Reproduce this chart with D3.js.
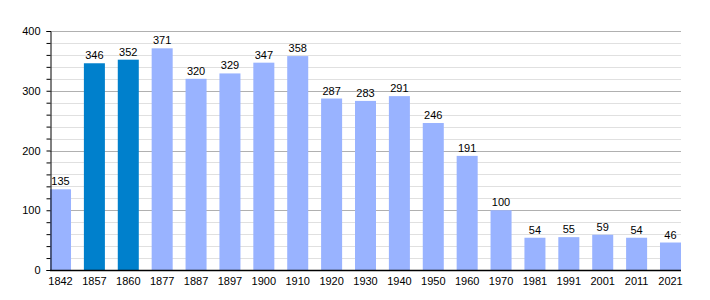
<!DOCTYPE html>
<html>
<head>
<meta charset="utf-8">
<script src="https://cdn.jsdelivr.net/npm/d3@7"></script>
<style>
  body { margin: 0; background: #fff; }
  text { font-family: "Liberation Sans", Arial, sans-serif; font-size: 11px; fill: #000; }
</style>
</head>
<body>
<div id="chart"></div>
<script>
const years = ["1842","1857","1860","1877","1887","1897","1900","1910","1920","1930","1940","1950","1960","1970","1981","1991","2001","2011","2021"];
const population = [135,346,352,371,320,329,347,358,287,283,291,246,191,100,54,55,59,54,46];
const highlighted = ["1857","1860"];
const yTicks = [0,100,200,300,400];

const w = 710, h = 300;
const padLeft = 50, padRight = 681, padTop = 31, padBottom = 270;

const svg = d3.select("#chart").append("svg")
  .attr("width", w).attr("height", h);

const x = d3.scaleBand().domain(years).range([padLeft, padRight])
  .paddingInner(0.38).paddingOuter(0);
const y = d3.scaleLinear().domain([0, 400]).range([padBottom, padTop]);

// minor grid every 20
const minor = d3.range(20, 400, 20).filter(v => v % 100 !== 0);
svg.append("g").selectAll("line").data(minor).enter().append("line")
  .attr("x1", padLeft).attr("x2", padRight)
  .attr("y1", d => Math.round(y(d)) + 0.5).attr("y2", d => Math.round(y(d)) + 0.5)
  .attr("stroke", "#e0e0e0");
// major grid
svg.append("g").selectAll("line").data(yTicks.slice(1)).enter().append("line")
  .attr("x1", padLeft).attr("x2", padRight)
  .attr("y1", d => Math.round(y(d)) + 0.5).attr("y2", d => Math.round(y(d)) + 0.5)
  .attr("stroke", "#b0b0b0");

svg.selectAll("rect.bar").data(years).enter().append("rect")
  .attr("class", "bar")
  .attr("x", d => x(d))
  .attr("y", (d, i) => y(population[i]))
  .attr("width", x.bandwidth())
  .attr("height", (d, i) => padBottom - y(population[i]))
  .attr("fill", d => highlighted.includes(d) ? "#0080cc" : "#99b3ff");

svg.selectAll("text.val").data(years).enter().append("text")
  .attr("class", "val")
  .attr("x", d => x(d) + x.bandwidth() / 2)
  .attr("y", (d, i) => y(population[i]) - 4)
  .attr("text-anchor", "middle")
  .text((d, i) => population[i]);

// y axis
const yAxis = d3.axisLeft(y).tickValues(yTicks).tickSize(4).tickPadding(6);
const gy = svg.append("g").attr("transform", `translate(${padLeft + 0.5},0)`).call(yAxis);
gy.select(".domain").attr("stroke", "#000");
gy.selectAll("text").style("font-size", "11px").style("font-family", "Liberation Sans, Arial, sans-serif");
// minor ticks
const yMinor = d3.axisLeft(y).tickValues(minor).tickSize(4).tickFormat("");
svg.append("g").attr("transform", `translate(${padLeft + 0.5},0)`).call(yMinor)
  .select(".domain").remove();

// x axis
const xAxis = d3.axisBottom(x).tickSize(0).tickPadding(7);
const gx = svg.append("g").attr("transform", `translate(0,${padBottom + 0.5})`).call(xAxis);
gx.select(".domain").attr("d", `M${padLeft},0H${padRight}`).attr("stroke", "#000").attr("stroke-width", 1.5);
gx.selectAll("text").style("font-size", "11px").style("font-family", "Liberation Sans, Arial, sans-serif");
</script>
</body>
</html>
